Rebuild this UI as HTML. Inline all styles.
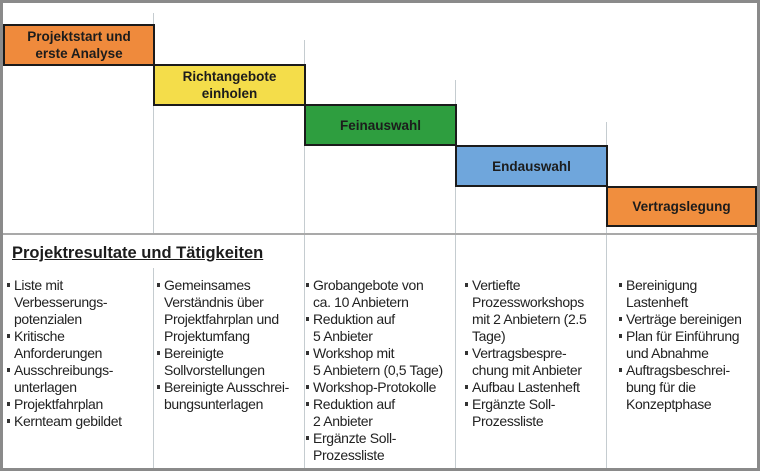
<!DOCTYPE html>
<html><head><meta charset="utf-8"><style>
body{margin:0;width:760px;height:471px;overflow:hidden;background:#fff;font-family:"Liberation Sans",Arial,sans-serif;}
.frame{position:absolute;left:0;top:0;width:754px;height:465px;border:3px solid #8a8a8a;background:#fff;}
.v{position:absolute;width:1px;background:#c5ccd0;}
.h{position:absolute;left:3px;width:754px;height:2px;background:#a9a9a9;top:233px;}
.box{position:absolute;box-sizing:border-box;border:2px solid #1b1b1b;display:flex;align-items:center;justify-content:center;text-align:center;font-weight:bold;font-size:13.5px;line-height:17px;color:#1c1c1c;}
.title{position:absolute;left:12px;top:244px;font-weight:bold;font-size:16.5px;text-decoration:underline;color:#1c1c1c;}
.col{position:absolute;top:277px;font-size:14px;line-height:17px;color:#222;letter-spacing:-0.35px;white-space:nowrap;}
.col div{padding-left:7px;text-indent:-7px;}
.col div::before{content:"";display:inline-block;width:3px;height:4px;background:#333;margin-right:4px;vertical-align:3px;}
</style></head><body>
<div class="frame"></div>
<div class="v" style="left:153px;top:13px;height:221px"></div>
<div class="v" style="left:304px;top:40px;height:428px"></div>
<div class="v" style="left:455px;top:80px;height:388px"></div>
<div class="v" style="left:606px;top:122px;height:346px"></div>
<div class="v" style="left:153px;top:268px;height:200px"></div>
<div class="h"></div>
<div class="box" style="left:3px;top:24px;width:152px;height:42px;background:#ef8a3c">Projektstart und<br>erste Analyse</div>
<div class="box" style="left:153px;top:64px;width:153px;height:42px;background:#f4dd4a">Richtangebote<br>einholen</div>
<div class="box" style="left:304px;top:104px;width:153px;height:42px;background:#2e9e3f">Feinauswahl</div>
<div class="box" style="left:455px;top:145px;width:153px;height:42px;background:#6fa6dc">Endauswahl</div>
<div class="box" style="left:606px;top:186px;width:151px;height:41px;background:#f08e3e">Vertragslegung</div>
<div class="title">Projektresultate und Tätigkeiten</div>
<div class="col" style="left:7px">
<div>Liste mit<br>Verbesserungs-<br>potenzialen</div>
<div>Kritische<br>Anforderungen</div>
<div>Ausschreibungs-<br>unterlagen</div>
<div>Projektfahrplan</div>
<div>Kernteam gebildet</div>
</div>
<div class="col" style="left:157px">
<div>Gemeinsames<br>Verständnis über<br>Projektfahrplan und<br>Projektumfang</div>
<div>Bereinigte<br>Sollvorstellungen</div>
<div>Bereinigte Ausschrei-<br>bungsunterlagen</div>
</div>
<div class="col" style="left:306px">
<div>Grobangebote von<br>ca. 10 Anbietern</div>
<div>Reduktion auf<br>5 Anbieter</div>
<div>Workshop mit<br>5 Anbietern (0,5 Tage)</div>
<div>Workshop-Protokolle</div>
<div>Reduktion auf<br>2 Anbieter</div>
<div>Ergänzte Soll-<br>Prozessliste</div>
</div>
<div class="col" style="left:465px">
<div>Vertiefte<br>Prozessworkshops<br>mit 2 Anbietern (2.5<br>Tage)</div>
<div>Vertragsbespre-<br>chung mit Anbieter</div>
<div>Aufbau Lastenheft</div>
<div>Ergänzte Soll-<br>Prozessliste</div>
</div>
<div class="col" style="left:619px">
<div>Bereinigung<br>Lastenheft</div>
<div>Verträge bereinigen</div>
<div>Plan für Einführung<br>und Abnahme</div>
<div>Auftragsbeschrei-<br>bung für die<br>Konzeptphase</div>
</div>
</body></html>
